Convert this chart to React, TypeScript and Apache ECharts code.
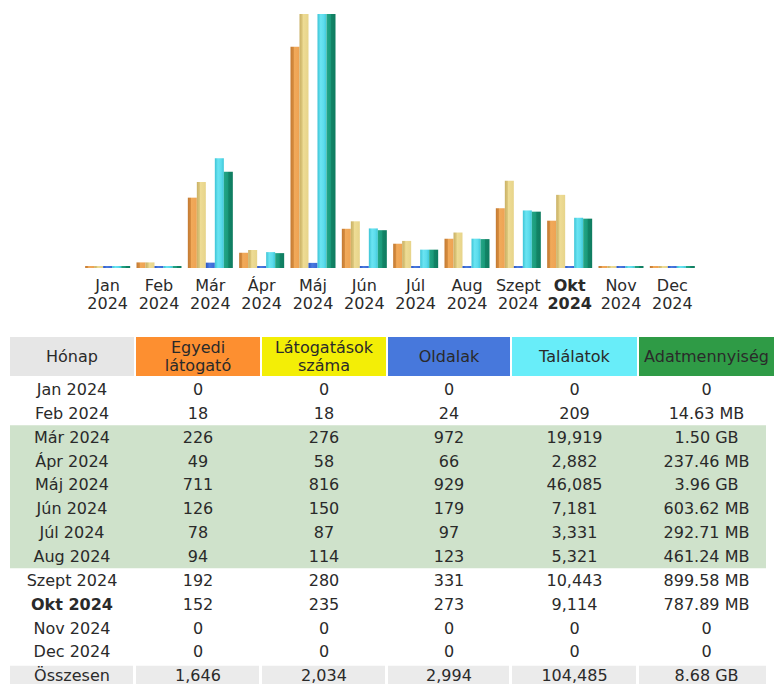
import React, { useEffect, useRef } from "react";
import * as echarts from "echarts";

const months = ["Jan", "Feb", "Már", "Ápr", "Máj", "Jún", "Júl", "Aug", "Szept", "Okt", "Nov", "Dec"];
const year = "2024";
const currentMonth = "Okt";
const visitors = [0, 18, 226, 49, 711, 126, 78, 94, 192, 152, 0, 0];
const visits = [0, 18, 276, 58, 816, 150, 87, 114, 280, 235, 0, 0];
const pages = [0, 24, 972, 66, 929, 179, 97, 123, 331, 273, 0, 0];
const hits = [0, 209, 19919, 2882, 46085, 7181, 3331, 5321, 10443, 9114, 0, 0];
const bandwidthMB = [0, 14.63, 1536, 237.46, 4055, 603.62, 292.71, 461.24, 899.58, 787.89, 0, 0];
const headers = ["Hónap", "Egyedi\nlátogató", "Látogatások\nszáma", "Oldalak", "Találatok", "Adatmennyiség"];
const totalLabel = "Összesen";
const highlightedMonths = ["Már", "Ápr", "Máj", "Jún", "Júl", "Aug"];

const FONT = "DejaVu Sans";
const TEXT = "#2a2a2a";

function fmtNum(n: number) {
  return n.toLocaleString("en-US");
}
function fmtBw(mb: number) {
  if (mb === 0) return "0";
  if (mb >= 1024) return (mb / 1024).toFixed(2) + " GB";
  return mb.toFixed(2) + " MB";
}
function sum(a: number[]) {
  return a.reduce((s, v) => s + v, 0);
}

function grad(stops: [number, string][]) {
  return new echarts.graphic.LinearGradient(0, 0, 1, 0, stops.map(([offset, color]) => ({ offset, color })));
}

export default function App() {
  const ref = useRef<HTMLDivElement>(null);
  useEffect(() => {
    if (!ref.current) return;
    const chart = echarts.init(ref.current, null, { renderer: "svg" });

    const colX = [10, 136, 262, 388, 512, 639];
    const colW = [124, 124, 124, 122, 125, 135];
    const headerColors = ["#e6e6e6", "#fd8f30", "#f3ee06", "#4778dc", "#68edf9", "#2f9b46"];
    const headTop = 337;
    const headH = 39;
    const rowStart = 389.5;
    const rowH = 23.85;

    const graphics: any[] = [];
    headers.forEach((h, i) => {
      graphics.push({
        type: "rect",
        shape: { x: colX[i], y: headTop, width: colW[i], height: headH },
        style: { fill: headerColors[i] },
        silent: true,
      });
      graphics.push({
        type: "text",
        style: {
          text: h,
          x: colX[i] + colW[i] / 2,
          y: headTop + headH / 2,
          align: "center",
          verticalAlign: "middle",
          fontFamily: FONT,
          fontSize: 16,
          lineHeight: 18,
          fill: TEXT,
        },
        silent: true,
      });
    });
    const hiIdx = highlightedMonths.map((m) => months.indexOf(m));
    const hiMin = Math.min(...hiIdx);
    const hiMax = Math.max(...hiIdx);
    graphics.push({
      type: "rect",
      shape: { x: 10, y: rowStart + rowH * hiMin - 12, width: 756, height: rowH * (hiMax - hiMin + 1) },
      style: { fill: "#cfe2cb" },
      silent: true,
    });
    const cellText = (t: string, col: number, y: number, bold = false) => ({
      type: "text",
      style: {
        text: t,
        x: colX[col] + colW[col] / 2,
        y,
        align: "center",
        verticalAlign: "middle",
        fontFamily: FONT,
        fontSize: 16,
        lineHeight: 16,
        fontWeight: bold ? "bold" : "normal",
        fill: TEXT,
      },
      silent: true,
    });
    months.forEach((m, i) => {
      const y = rowStart + rowH * i;
      const bold = m === currentMonth;
      graphics.push(cellText(`${m} ${year}`, 0, y, bold));
      graphics.push(cellText(fmtNum(visitors[i]), 1, y));
      graphics.push(cellText(fmtNum(visits[i]), 2, y));
      graphics.push(cellText(fmtNum(pages[i]), 3, y));
      graphics.push(cellText(fmtNum(hits[i]), 4, y));
      graphics.push(cellText(fmtBw(bandwidthMB[i]), 5, y));
    });
    const ty = rowStart + rowH * months.length;
    colX.forEach((x, i) => {
      graphics.push({
        type: "rect",
        shape: { x, y: ty - 10, width: i === 5 ? 127 : colW[i] - 1, height: 30 },
        style: { fill: "#ebebeb" },
        silent: true,
      });
    });
    graphics.push(cellText(totalLabel, 0, ty));
    graphics.push(cellText(fmtNum(sum(visitors)), 1, ty));
    graphics.push(cellText(fmtNum(sum(visits)), 2, ty));
    graphics.push(cellText(fmtNum(sum(pages)), 3, ty));
    graphics.push(cellText(fmtNum(sum(hits)), 4, ty));
    graphics.push(cellText(fmtBw(sum(bandwidthMB)), 5, ty));

    const barCommon = {
      type: "bar",
      barWidth: 9,
      barGap: "0%",
      barMinHeight: 2,
      silent: true,
    };

    chart.setOption({
      animation: false,
      grid: { left: 82, width: 616, top: 14, height: 254, containLabel: false },
      xAxis: {
        type: "category",
        data: months,
        axisLine: { show: false },
        axisTick: { show: false },
        axisLabel: {
          interval: 0,
          margin: 8,
          color: TEXT,
          fontFamily: FONT,
          fontSize: 16,
          lineHeight: 18,
          formatter: (v: string) => (v === currentMonth ? `{b|${v}}\n{b|${year}}` : `${v}\n${year}`),
          rich: {
            b: { fontWeight: "bold", fontFamily: FONT, fontSize: 16, lineHeight: 18, color: TEXT },
          },
        },
      },
      yAxis: [
        { type: "value", min: 0, max: Math.max(...visits, ...visitors), show: false },
        { type: "value", min: 0, max: Math.max(...hits, ...pages), show: false },
        { type: "value", min: 0, max: Math.max(...bandwidthMB), show: false },
      ],
      series: [
        {
          ...barCommon,
          name: "Egyedi látogató",
          yAxisIndex: 0,
          data: visitors,
          itemStyle: { color: grad([[0, "#c47a32"], [0.33, "#d68d40"], [0.38, "#f1aa5a"], [1, "#eea353"]]) },
        },
        {
          ...barCommon,
          name: "Látogatások száma",
          yAxisIndex: 0,
          data: visits,
          itemStyle: { color: grad([[0, "#c9b064"], [0.3, "#dcc77c"], [0.4, "#eedc95"], [1, "#e7d48a"]]) },
        },
        {
          ...barCommon,
          name: "Oldalak",
          yAxisIndex: 1,
          data: pages,
          itemStyle: { color: grad([[0, "#2a55c4"], [0.4, "#4a7be0"], [1, "#3866d4"]]) },
        },
        {
          ...barCommon,
          name: "Találatok",
          yAxisIndex: 1,
          data: hits,
          itemStyle: { color: grad([[0, "#3cc4d6"], [0.35, "#6ae4f2"], [0.7, "#5cdcec"], [1, "#3ec8da"]]) },
        },
        {
          ...barCommon,
          name: "Adatmennyiség",
          yAxisIndex: 2,
          data: bandwidthMB,
          itemStyle: { color: grad([[0, "#24a687"], [0.45, "#1a9a7a"], [0.55, "#128466"], [1, "#0f7c60"]]) },
        },
      ],
      graphic: graphics,
    });
    return () => chart.dispose();
  }, []);
  return (
    <div
      ref={ref}
      style={{ position: "absolute", left: 0, top: 0, width: 774, height: 684, background: "#fff" }}
    />
  );
}
